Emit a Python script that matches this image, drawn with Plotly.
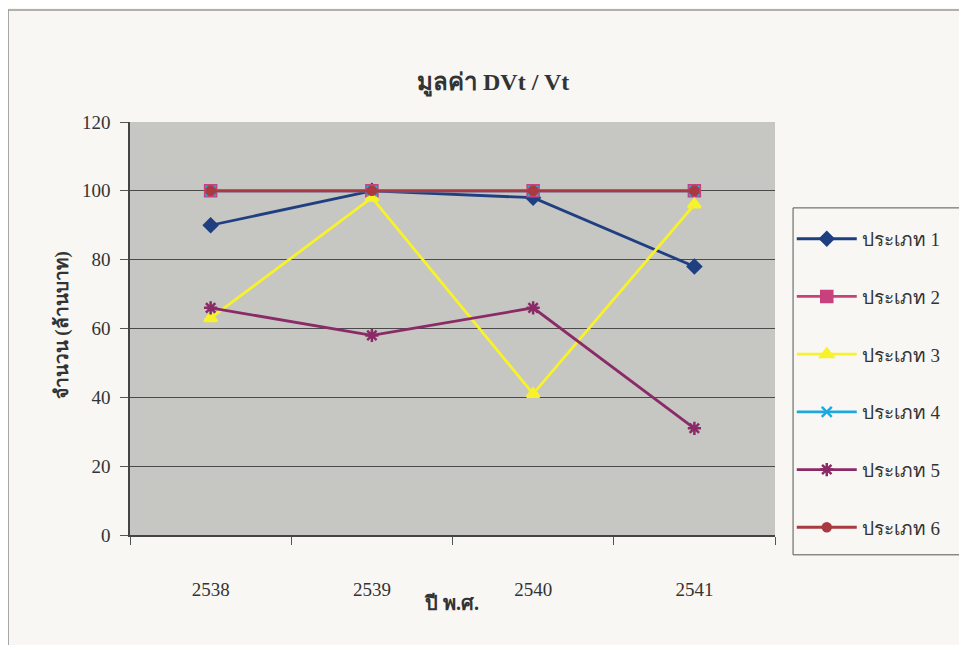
import plotly.graph_objects as go

years = ["2538", "2539", "2540", "2541"]
names = ["ประเภท 1", "ประเภท 2", "ประเภท 3", "ประเภท 4", "ประเภท 5", "ประเภท 6"]
s1 = [90, 100, 98, 78]
s2 = [100, 100, 100, 100]
s3 = [63, 98, 41, 96]
s4 = [100, 100, 100, 100]
s5 = [66, 58, 66, 31]
s6 = [100, 100, 100, 100]
series = [s1, s2, s3, s4, s5, s6]
colors = ["#1f3f80", "#c8407c", "#f8f22a", "#1ea8e0", "#8a2a66", "#a83a40"]
symbols = ["diamond", "square", "triangle-up", "x-thin-open", "asterisk-open", "circle"]
sizes = [10, 11, 11, 10, 11, 8]

fig = go.Figure()
for i, (nm, vals) in enumerate(zip(names, series)):
    fig.add_trace(go.Scatter(
        x=years, y=vals, name=nm, mode="lines+markers",
        legendgroup=str(i),
        line=dict(color=colors[i], width=2.8),
        marker=dict(symbol=symbols[i], size=sizes[i], color=colors[i],
                    line=dict(color=colors[i], width=2.5)),
    ))

serif = "Liberation Serif, DejaVu Serif, serif"
fig.update_layout(
    width=967, height=645,
    margin=dict(l=122, r=200, t=114, b=118),
    paper_bgcolor="#f8f7f3",
    plot_bgcolor="#c6c6c3",
    font=dict(family=serif, size=15, color="#333333"),
    showlegend=True,
    legend=dict(x=1.026, xanchor="left", y=0.763, yanchor="top",
                bgcolor="rgba(0,0,0,0)", borderwidth=0,
                tracegroupgap=30, font=dict(size=19, family=serif),
                itemwidth=60),
    xaxis=dict(type="category", range=[-0.5, 3.5], showgrid=False, showline=True,
               linecolor="#444444", linewidth=1.5,
               ticks="outside", tickson="boundaries", ticklen=8, tickcolor="#555555",
               ticklabelstandoff=36, tickfont=dict(size=19)),
    yaxis=dict(range=[0, 120], dtick=20, showgrid=True, gridcolor="#4a4a4a", gridwidth=1,
               showline=True, linecolor="#444444", linewidth=1.5, zeroline=False,
               ticks="outside", ticklen=8, tickcolor="#555555", tickfont=dict(size=19),
               ticklabelstandoff=6),
    annotations=[
        dict(text="<b>มูลค่า DVt / Vt</b>", xref="paper", yref="paper", x=0.563, y=1.094,
             xanchor="center", yanchor="middle",
             showarrow=False, font=dict(size=24, family=serif, color="#333333")),
        dict(text="<b>ปี พ.ศ.</b>", xref="paper", yref="paper", x=0.499, y=-0.165,
             xanchor="center", yanchor="middle",
             showarrow=False, font=dict(size=20, family=serif, color="#333333")),
        dict(text="<b>จำนวน (ล้านบาท)</b>", xref="paper", yref="paper", x=-0.105, y=0.508,
             xanchor="center", yanchor="middle",
             showarrow=False, textangle=-90, font=dict(size=19, family=serif, color="#333333")),
    ],
)
# chart-area frame
fig.add_shape(type="rect", xref="paper", yref="paper", x0=-0.189, x1=1.4, y0=-0.4, y1=1.271,
              line=dict(color="#999999", width=1.5), fillcolor="rgba(0,0,0,0)", layer="below")
# legend frame
fig.add_shape(type="rect", xref="paper", yref="paper", x0=1.028, x1=1.295, y0=-0.048, y1=0.792,
              line=dict(color="#555555", width=1), fillcolor="#f8f7f3", layer="below")
fig.write_html("out.html")
